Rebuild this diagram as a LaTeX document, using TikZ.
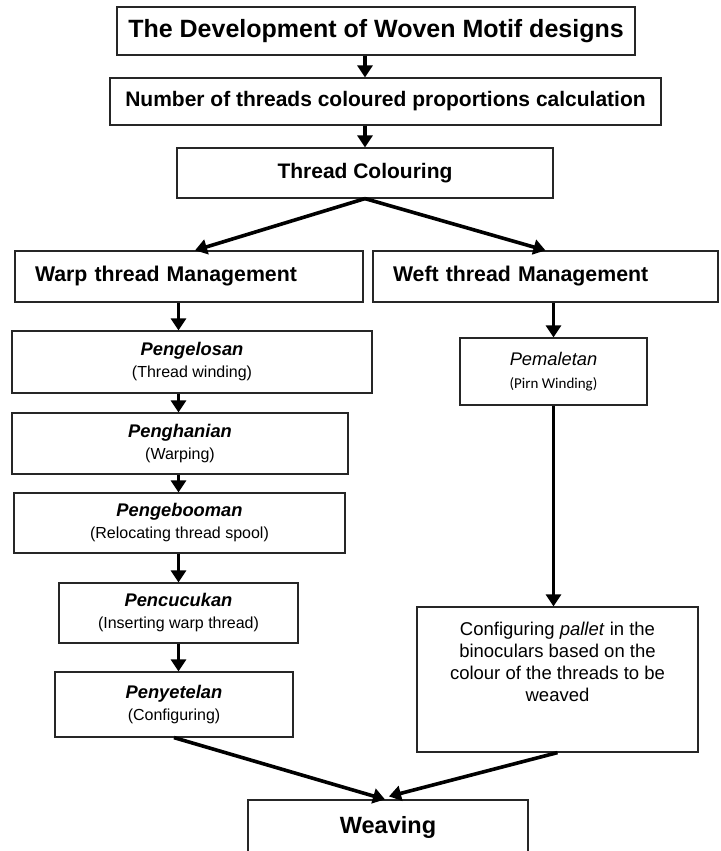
\documentclass[tikz,border=0pt]{standalone}
\usepackage{fontspec}
\setmainfont{Liberation Sans}
\newfontfamily\calibrifont{Carlito}
\usepackage{tikz}
\usetikzlibrary{arrows.meta}

\newcommand{\stagetext}[2]{{\fontsize{18.3}{22}\selectfont\bfseries\itshape #1}\\(#2)}

\begin{document}
\begin{tikzpicture}[x=1pt,y=-1pt,
  box/.style={draw=black!85, line width=1.2pt, inner sep=0pt, align=center},
  stage/.style={box, font=\fontsize{16}{22}\selectfont},
  mgmt/.style={box, minimum height=51pt, text width=#1, align=left, inner xsep=20pt,
    font=\fontsize{21.3}{25}\selectfont\bfseries},
  arr/.style={line width=3.6pt, -{Triangle[length=12pt,width=15pt]}}]
\useasboundingbox (0,0) rectangle (720,851);

\node[box, minimum width=518pt, minimum height=48pt, font=\fontsize{25}{29}\selectfont\bfseries]
  (title) at (376,31) {The Development of Woven Motif designs};
\node[box, minimum width=551pt, minimum height=47pt, font=\fontsize{21}{25}\selectfont\bfseries]
  (calc) at (385.5,101.5) {Number of threads coloured proportions calculation};
\node[box, minimum width=376pt, minimum height=50pt, font=\fontsize{21}{25}\selectfont\bfseries]
  (colour) at (365,173) {Thread Colouring};

\node[mgmt=308pt] (warp) at (189,276.5) {Warp thread Management};
\node[mgmt=305pt] (weft) at (545.5,276.5) {Weft thread Management};

\node[stage, minimum width=360pt, minimum height=62pt] (pengelosan) at (192,362) {\stagetext{Pengelosan}{Thread winding}};
\node[stage, minimum width=336pt, minimum height=61pt] (penghanian) at (180,443.5) {\stagetext{Penghanian}{Warping}};
\node[stage, minimum width=331pt, minimum height=60pt] (pengebooman) at (179.5,523) {\stagetext{Pengebooman}{Relocating thread spool}};
\node[stage, minimum width=239pt, minimum height=60pt] (pencucukan) at (178.5,613) {\stagetext{Pencucukan}{Inserting warp thread}};
\node[stage, minimum width=238pt, minimum height=65pt] (penyetelan) at (174,704.5) {\stagetext{Penyetelan}{Configuring}};

\node[box, minimum width=187pt, minimum height=67pt, font=\fontsize{15}{23}\selectfont] (pemaletan) at (553.5,371.5)
  {{\fontsize{18.3}{23}\selectfont\itshape Pemaletan}\\{\calibrifont(Pirn Winding)}};
\node[box, minimum width=281pt, minimum height=145pt,
  label={[anchor=north, yshift=-12pt, align=center, font=\fontsize{18.5}{22}\selectfont]north:{Configuring \textit{pallet} in the\\binoculars based on the\\colour of the threads to be\\weaved}}]
  (config) at (557.5,679.5) {};

\node[box, minimum width=280pt, minimum height=54pt, font=\fontsize{23.5}{28}\selectfont\bfseries]
  (weaving) at (388,827) {Weaving};

\draw[arr] (title.south -| colour) -- (calc.north -| colour);
\draw[arr] (calc.south -| colour) -- (colour.north);
\draw[arr] (colour.south) -- ([xshift=6pt]warp.north);
\draw[arr] (colour.south) -- (weft.north);

\draw[arr] (warp.south -| pencucukan) -- (pengelosan.north -| pencucukan);
\draw[arr] (pengelosan.south -| pencucukan) -- (penghanian.north -| pencucukan);
\draw[arr] (penghanian.south -| pencucukan) -- (pengebooman.north -| pencucukan);
\draw[arr] (pengebooman.south -| pencucukan) -- (pencucukan.north);
\draw[arr] (pencucukan.south) -- (penyetelan.north -| pencucukan);

\draw[arr] (weft.south -| pemaletan) -- (pemaletan.north);
\draw[arr] (pemaletan.south) -- (config.north -| pemaletan);

\draw[arr] (penyetelan.south) -- ([xshift=-3pt]weaving.north);
\draw[arr] (config.south) -- ([xshift=1pt,yshift=3pt]weaving.north);
\end{tikzpicture}
\end{document}
